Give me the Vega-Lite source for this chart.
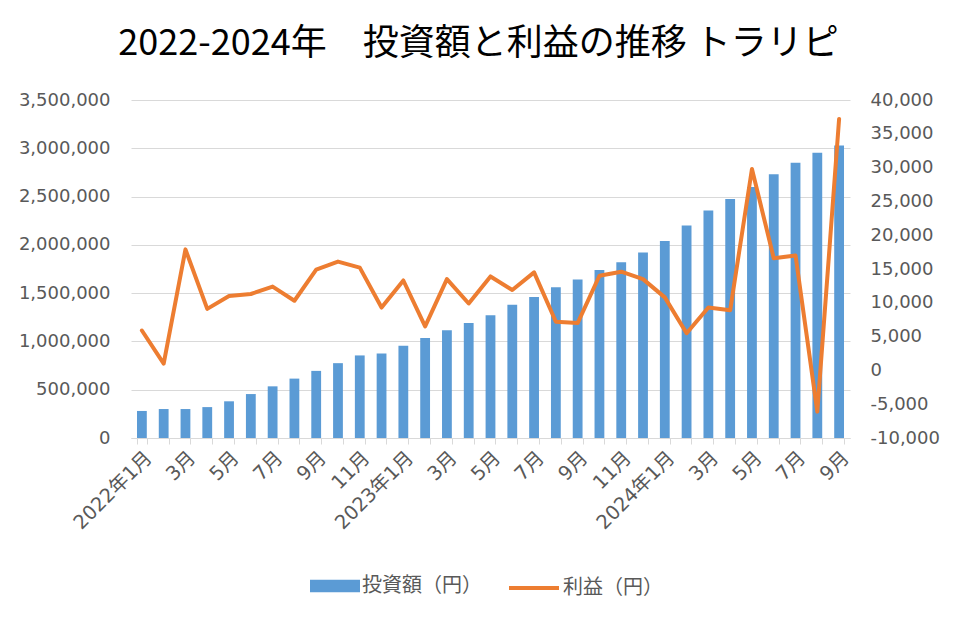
{
  "$schema": "https://vega.github.io/schema/vega-lite/v6.json",
  "width": 719,
  "height": 338,
  "autosize": {"type": "none"},
  "padding": {"left": 131, "top": 100, "right": 110, "bottom": 186},
  "background": "white",
  "title": {
    "text": "2022-2024年　投資額と利益の推移 トラリピ",
    "font": "Noto Sans CJK JP",
    "fontSize": 36,
    "fontWeight": "normal",
    "color": "#000000",
    "anchor": "middle",
    "frame": "group",
    "dx": -12,
    "offset": 28
  },
  "config": {
    "view": {"stroke": null},
    "axis": {
      "labelFont": "DejaVu Sans, Noto Sans CJK JP",
      "labelFontSize": 18,
      "labelColor": "#595959",
      "gridColor": "#d9d9d9",
      "domainColor": "#d9d9d9",
      "tickColor": "#d9d9d9",
      "title": null
    },
    "legend": {
      "labelFont": "Noto Sans CJK JP",
      "labelFontSize": 20,
      "labelColor": "#595959",
      "padding": 0,
      "title": null
    }
  },
  "data": {
    "values": [
      {"month": "2022-01", "invest": 280000, "profit": 5900},
      {"month": "2022-02", "invest": 300000, "profit": 1000},
      {"month": "2022-03", "invest": 300000, "profit": 17900},
      {"month": "2022-04", "invest": 320000, "profit": 9100},
      {"month": "2022-05", "invest": 380000, "profit": 11000},
      {"month": "2022-06", "invest": 455000, "profit": 11300},
      {"month": "2022-07", "invest": 535000, "profit": 12400},
      {"month": "2022-08", "invest": 615000, "profit": 10300},
      {"month": "2022-09", "invest": 695000, "profit": 14900},
      {"month": "2022-10", "invest": 775000, "profit": 16100},
      {"month": "2022-11", "invest": 855000, "profit": 15200},
      {"month": "2022-12", "invest": 875000, "profit": 9300},
      {"month": "2023-01", "invest": 955000, "profit": 13300},
      {"month": "2023-02", "invest": 1035000, "profit": 6500},
      {"month": "2023-03", "invest": 1115000, "profit": 13500},
      {"month": "2023-04", "invest": 1190000, "profit": 9900},
      {"month": "2023-05", "invest": 1270000, "profit": 13900},
      {"month": "2023-06", "invest": 1380000, "profit": 11900},
      {"month": "2023-07", "invest": 1460000, "profit": 14500},
      {"month": "2023-08", "invest": 1560000, "profit": 7200},
      {"month": "2023-09", "invest": 1640000, "profit": 7000},
      {"month": "2023-10", "invest": 1740000, "profit": 14000},
      {"month": "2023-11", "invest": 1820000, "profit": 14600},
      {"month": "2023-12", "invest": 1920000, "profit": 13500},
      {"month": "2024-01", "invest": 2040000, "profit": 10800},
      {"month": "2024-02", "invest": 2200000, "profit": 5500},
      {"month": "2024-03", "invest": 2355000, "profit": 9300},
      {"month": "2024-04", "invest": 2475000, "profit": 8900},
      {"month": "2024-05", "invest": 2600000, "profit": 29800},
      {"month": "2024-06", "invest": 2730000, "profit": 16600},
      {"month": "2024-07", "invest": 2850000, "profit": 17000},
      {"month": "2024-08", "invest": 2955000, "profit": -6100},
      {"month": "2024-09", "invest": 3030000, "profit": 37200}
    ]
  },
  "encoding": {
    "x": {
      "field": "month",
      "type": "ordinal",
      "sort": null,
      "scale": {"paddingInner": 0.55, "paddingOuter": 0.275},
      "axis": {
        "tickBand": "extent",
        "tickSize": 6,
        "labelAngle": -45,
        "labelOverlap": false,
        "labelPadding": 4,
        "labelFontSize": 19.5,
        "labelExpr": "!isString(datum.value) ? '' : ((toNumber(substring(datum.value,5,7)) % 2 == 0) ? '' : (substring(datum.value,5,7) == '01' ? substring(datum.value,0,4) + '年1月' : toNumber(substring(datum.value,5,7)) + '月'))"
      }
    }
  },
  "layer": [
    {
      "mark": {"type": "bar"},
      "encoding": {
        "y": {
          "field": "invest",
          "type": "quantitative",
          "scale": {"domain": [0, 3500000], "nice": false},
          "axis": {
            "values": [0, 500000, 1000000, 1500000, 2000000, 2500000, 3000000, 3500000],
            "format": ",d",
            "domain": false,
            "ticks": false,
            "tickSize": 0,
            "labelPadding": 21,
            "grid": true
          }
        },
        "fill": {
          "datum": "投資額（円）",
          "type": "nominal",
          "scale": {"domain": ["投資額（円）"], "range": ["#5B9BD5"]},
          "legend": {
            "orient": "none",
            "legendX": 179,
            "legendY": 461,
            "symbolType": "M-1,-0.25H1V0.25H-1Z",
            "symbolSize": 2500,
            "symbolStrokeWidth": 0,
            "labelOffset": 2
          }
        }
      }
    },
    {
      "mark": {"type": "line", "strokeWidth": 4, "strokeJoin": "round", "strokeCap": "round"},
      "encoding": {
        "y": {
          "field": "profit",
          "type": "quantitative",
          "scale": {"domain": [-10000, 40000], "nice": false},
          "axis": {
            "orient": "right",
            "values": [-10000, -5000, 0, 5000, 10000, 15000, 20000, 25000, 30000, 35000, 40000],
            "format": ",d",
            "labelExpr": "replace(datum.label, '−', '-')",
            "domain": false,
            "ticks": false,
            "tickSize": 0,
            "labelPadding": 20,
            "grid": false
          }
        },
        "stroke": {
          "datum": "利益（円）",
          "type": "nominal",
          "scale": {"domain": ["利益（円）"], "range": ["#ED7D31"]},
          "legend": {
            "orient": "none",
            "legendX": 376,
            "legendY": 461,
            "symbolType": "stroke",
            "symbolSize": 2500,
            "symbolStrokeWidth": 4,
            "labelOffset": 2
          }
        }
      }
    }
  ],
  "resolve": {"scale": {"y": "independent"}}
}
